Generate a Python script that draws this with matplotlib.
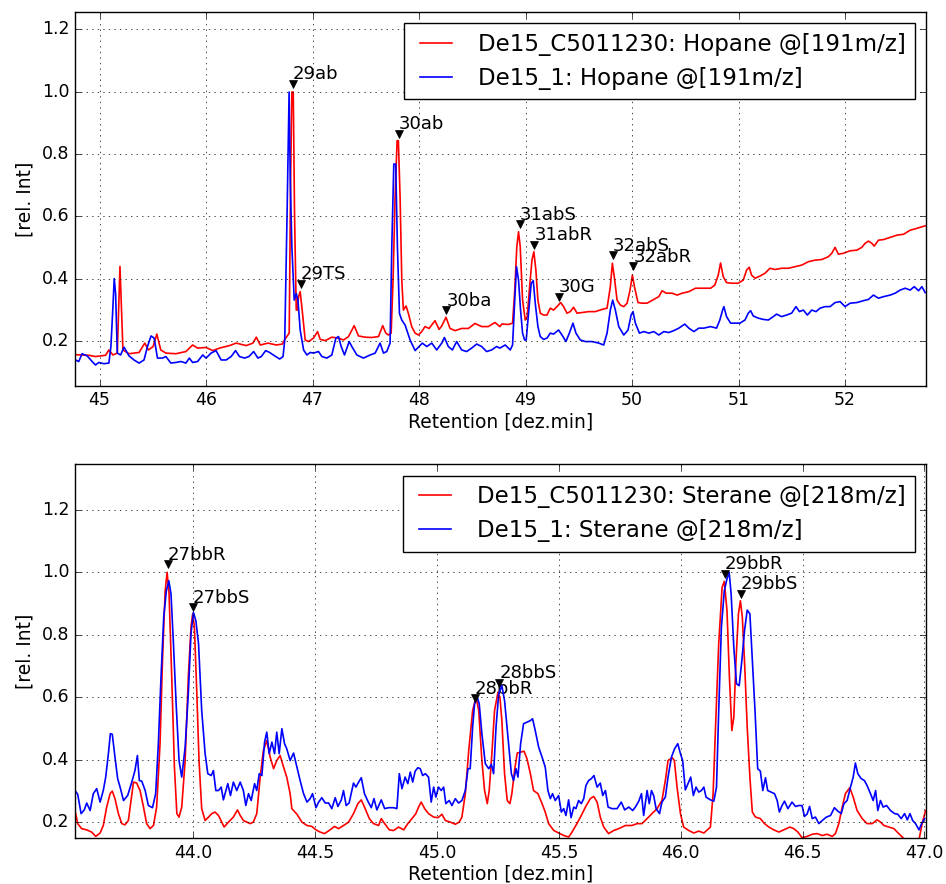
import matplotlib
matplotlib.use("Agg")
import matplotlib.pyplot as plt

plt.style.use("classic")

# retention [min], rel. intensity  -- Hopane @191 m/z
hopane_c5011230 = [
    (44.774, 0.157), (44.899, 0.155), (44.962, 0.151), (45.057, 0.155), (45.088, 0.172),
    (45.126, 0.156), (45.167, 0.162), (45.192, 0.440), (45.220, 0.172), (45.277, 0.160),
    (45.371, 0.164), (45.425, 0.194), (45.459, 0.172), (45.503, 0.183), (45.538, 0.223),
    (45.575, 0.172), (45.623, 0.162), (45.717, 0.160), (45.811, 0.167), (45.874, 0.188),
    (45.921, 0.178), (46.000, 0.180), (46.063, 0.170), (46.126, 0.178), (46.220, 0.186),
    (46.283, 0.194), (46.377, 0.186), (46.440, 0.194), (46.472, 0.213), (46.509, 0.188),
    (46.582, 0.194), (46.660, 0.188), (46.717, 0.191), (46.748, 0.210), (46.781, 0.226),
    (46.794, 0.715), (46.806, 0.999), (46.819, 0.999), (46.831, 0.609), (46.847, 0.300),
    (46.856, 0.300), (46.869, 0.343), (46.884, 0.359), (46.906, 0.289), (46.931, 0.204),
    (46.963, 0.199), (47.009, 0.210), (47.047, 0.231), (47.072, 0.206), (47.119, 0.202),
    (47.181, 0.213), (47.244, 0.210), (47.291, 0.204), (47.338, 0.215), (47.391, 0.250),
    (47.431, 0.217), (47.494, 0.213), (47.556, 0.212), (47.619, 0.215), (47.659, 0.250),
    (47.688, 0.226), (47.713, 0.220), (47.738, 0.226), (47.756, 0.396), (47.775, 0.662),
    (47.794, 0.843), (47.806, 0.843), (47.822, 0.662), (47.838, 0.396), (47.853, 0.300),
    (47.878, 0.313), (47.900, 0.289), (47.931, 0.247), (47.963, 0.226), (47.994, 0.220),
    (48.025, 0.231), (48.056, 0.247), (48.094, 0.241), (48.150, 0.266), (48.188, 0.238),
    (48.213, 0.249), (48.253, 0.277), (48.291, 0.241), (48.338, 0.234), (48.400, 0.241),
    (48.463, 0.241), (48.525, 0.257), (48.588, 0.247), (48.650, 0.247), (48.713, 0.260),
    (48.759, 0.247), (48.777, 0.255), (48.840, 0.254), (48.878, 0.258), (48.897, 0.354),
    (48.918, 0.503), (48.934, 0.551), (48.950, 0.503), (48.972, 0.332), (48.997, 0.268),
    (49.016, 0.279), (49.038, 0.375), (49.060, 0.460), (49.078, 0.487), (49.097, 0.428),
    (49.116, 0.332), (49.138, 0.290), (49.169, 0.284), (49.201, 0.284), (49.232, 0.306),
    (49.263, 0.300), (49.295, 0.311), (49.329, 0.324), (49.357, 0.311), (49.389, 0.290),
    (49.420, 0.295), (49.451, 0.309), (49.483, 0.290), (49.530, 0.292), (49.592, 0.295),
    (49.655, 0.295), (49.718, 0.302), (49.765, 0.306), (49.796, 0.375), (49.815, 0.450),
    (49.837, 0.396), (49.859, 0.332), (49.890, 0.316), (49.922, 0.311), (49.953, 0.322),
    (49.981, 0.364), (50.003, 0.412), (50.025, 0.370), (50.056, 0.324), (50.094, 0.322),
    (50.141, 0.322), (50.204, 0.334), (50.251, 0.343), (50.282, 0.362), (50.320, 0.354),
    (50.376, 0.354), (50.423, 0.348), (50.470, 0.354), (50.533, 0.359), (50.596, 0.370),
    (50.658, 0.370), (50.737, 0.370), (50.777, 0.380), (50.809, 0.412), (50.831, 0.451),
    (50.856, 0.407), (50.887, 0.388), (50.934, 0.386), (50.997, 0.386), (51.044, 0.396),
    (51.075, 0.428), (51.100, 0.437), (51.122, 0.412), (51.154, 0.402), (51.201, 0.409),
    (51.248, 0.418), (51.295, 0.434), (51.342, 0.430), (51.404, 0.434), (51.467, 0.434),
    (51.530, 0.439), (51.592, 0.444), (51.655, 0.455), (51.718, 0.460), (51.781, 0.462),
    (51.843, 0.471), (51.875, 0.482), (51.906, 0.501), (51.937, 0.479), (51.984, 0.482),
    (52.047, 0.490), (52.110, 0.492), (52.157, 0.501), (52.188, 0.514), (52.219, 0.521),
    (52.251, 0.514), (52.273, 0.505), (52.313, 0.524), (52.361, 0.526), (52.423, 0.533),
    (52.486, 0.540), (52.549, 0.543), (52.611, 0.556), (52.674, 0.562), (52.752, 0.570),
]

hopane_1 = [
    (44.774, 0.140), (44.805, 0.135), (44.836, 0.160), (44.884, 0.153), (44.931, 0.135),
    (44.962, 0.124), (44.994, 0.132), (45.041, 0.128), (45.088, 0.130), (45.107, 0.183),
    (45.126, 0.311), (45.138, 0.401), (45.151, 0.353), (45.167, 0.162), (45.198, 0.156),
    (45.230, 0.181), (45.277, 0.153), (45.324, 0.140), (45.371, 0.130), (45.418, 0.140),
    (45.450, 0.183), (45.484, 0.217), (45.513, 0.210), (45.544, 0.146), (45.591, 0.146),
    (45.623, 0.151), (45.670, 0.130), (45.717, 0.132), (45.764, 0.135), (45.811, 0.130),
    (45.843, 0.146), (45.874, 0.132), (45.921, 0.135), (45.969, 0.156), (46.000, 0.146),
    (46.047, 0.162), (46.094, 0.170), (46.142, 0.140), (46.189, 0.140), (46.236, 0.151),
    (46.277, 0.170), (46.314, 0.151), (46.362, 0.146), (46.403, 0.151), (46.447, 0.167),
    (46.487, 0.146), (46.519, 0.151), (46.560, 0.170), (46.597, 0.164), (46.645, 0.153),
    (46.692, 0.143), (46.723, 0.151), (46.739, 0.204), (46.761, 0.609), (46.780, 0.999),
    (46.791, 0.715), (46.806, 0.502), (46.828, 0.332), (46.847, 0.353), (46.863, 0.332),
    (46.884, 0.236), (46.916, 0.172), (46.947, 0.156), (46.978, 0.164), (47.009, 0.162),
    (47.056, 0.167), (47.088, 0.151), (47.134, 0.146), (47.181, 0.156), (47.219, 0.210),
    (47.244, 0.215), (47.269, 0.183), (47.300, 0.156), (47.344, 0.199), (47.369, 0.183),
    (47.416, 0.156), (47.478, 0.146), (47.541, 0.156), (47.588, 0.162), (47.634, 0.194),
    (47.666, 0.162), (47.697, 0.167), (47.728, 0.194), (47.744, 0.502), (47.763, 0.768),
    (47.781, 0.768), (47.797, 0.502), (47.816, 0.289), (47.838, 0.268), (47.869, 0.252),
    (47.916, 0.204), (47.963, 0.170), (48.000, 0.183), (48.031, 0.194), (48.072, 0.183),
    (48.119, 0.194), (48.166, 0.172), (48.213, 0.194), (48.238, 0.212), (48.275, 0.183),
    (48.313, 0.172), (48.353, 0.199), (48.400, 0.172), (48.447, 0.167), (48.494, 0.178),
    (48.541, 0.191), (48.588, 0.183), (48.634, 0.167), (48.681, 0.172), (48.728, 0.183),
    (48.759, 0.178), (48.809, 0.188), (48.856, 0.172), (48.878, 0.188), (48.897, 0.322),
    (48.915, 0.439), (48.934, 0.396), (48.953, 0.300), (48.972, 0.226), (48.991, 0.204),
    (49.006, 0.204), (49.028, 0.290), (49.053, 0.386), (49.072, 0.394), (49.091, 0.322),
    (49.116, 0.247), (49.138, 0.215), (49.169, 0.206), (49.201, 0.210), (49.232, 0.226),
    (49.263, 0.223), (49.310, 0.236), (49.342, 0.220), (49.379, 0.199), (49.411, 0.226),
    (49.445, 0.258), (49.473, 0.226), (49.514, 0.204), (49.561, 0.199), (49.624, 0.199),
    (49.687, 0.194), (49.734, 0.188), (49.765, 0.226), (49.796, 0.300), (49.818, 0.332),
    (49.843, 0.300), (49.875, 0.247), (49.922, 0.220), (49.962, 0.236), (49.991, 0.284),
    (50.009, 0.295), (50.031, 0.258), (50.069, 0.226), (50.110, 0.231), (50.157, 0.226),
    (50.204, 0.231), (50.251, 0.220), (50.298, 0.231), (50.345, 0.228), (50.392, 0.234),
    (50.439, 0.242), (50.495, 0.255), (50.533, 0.242), (50.580, 0.231), (50.627, 0.242),
    (50.674, 0.242), (50.737, 0.247), (50.793, 0.242), (50.824, 0.268), (50.850, 0.300),
    (50.862, 0.311), (50.887, 0.279), (50.925, 0.258), (50.966, 0.258), (51.013, 0.258),
    (51.060, 0.268), (51.091, 0.290), (51.113, 0.298), (51.138, 0.281), (51.185, 0.274),
    (51.232, 0.270), (51.279, 0.268), (51.326, 0.279), (51.357, 0.287), (51.404, 0.279),
    (51.451, 0.284), (51.498, 0.290), (51.539, 0.311), (51.571, 0.295), (51.608, 0.300),
    (51.646, 0.284), (51.687, 0.300), (51.727, 0.295), (51.765, 0.306), (51.812, 0.311),
    (51.859, 0.311), (51.906, 0.324), (51.953, 0.327), (52.000, 0.311), (52.047, 0.322),
    (52.110, 0.324), (52.172, 0.330), (52.219, 0.334), (52.266, 0.348), (52.313, 0.338),
    (52.361, 0.343), (52.423, 0.348), (52.470, 0.354), (52.517, 0.364), (52.564, 0.370),
    (52.611, 0.364), (52.649, 0.375), (52.690, 0.362), (52.721, 0.375), (52.752, 0.356),
]

# Sterane @218 m/z
sterane_c5011230 = [
    (43.514, 0.237), (43.525, 0.195), (43.541, 0.179), (43.562, 0.175), (43.582, 0.168),
    (43.599, 0.154), (43.617, 0.165), (43.630, 0.189), (43.644, 0.248), (43.658, 0.291),
    (43.667, 0.299), (43.678, 0.275), (43.692, 0.227), (43.706, 0.195), (43.719, 0.191),
    (43.733, 0.205), (43.744, 0.269), (43.754, 0.328), (43.767, 0.325), (43.781, 0.301),
    (43.795, 0.248), (43.808, 0.195), (43.822, 0.179), (43.836, 0.189), (43.849, 0.248),
    (43.863, 0.451), (43.873, 0.717), (43.884, 0.941), (43.892, 1.000), (43.900, 0.931),
    (43.911, 0.664), (43.922, 0.376), (43.932, 0.227), (43.941, 0.216), (43.952, 0.248),
    (43.966, 0.397), (43.979, 0.664), (43.990, 0.824), (43.997, 0.867), (44.004, 0.824),
    (44.014, 0.611), (44.023, 0.397), (44.034, 0.243), (44.048, 0.205), (44.062, 0.216),
    (44.075, 0.227), (44.089, 0.232), (44.103, 0.221), (44.116, 0.200), (44.126, 0.184),
    (44.144, 0.200), (44.164, 0.216), (44.181, 0.239), (44.192, 0.221), (44.205, 0.205),
    (44.219, 0.200), (44.233, 0.195), (44.246, 0.200), (44.260, 0.227), (44.274, 0.344),
    (44.287, 0.429), (44.301, 0.461), (44.315, 0.408), (44.329, 0.371), (44.342, 0.397),
    (44.356, 0.413), (44.370, 0.376), (44.383, 0.344), (44.397, 0.291), (44.404, 0.243),
    (44.425, 0.225), (44.445, 0.200), (44.466, 0.189), (44.486, 0.186), (44.503, 0.175),
    (44.520, 0.168), (44.538, 0.163), (44.557, 0.173), (44.579, 0.186), (44.596, 0.179),
    (44.616, 0.189), (44.637, 0.200), (44.657, 0.227), (44.675, 0.259), (44.689, 0.271),
    (44.705, 0.243), (44.722, 0.211), (44.739, 0.195), (44.760, 0.189), (44.771, 0.211),
    (44.785, 0.195), (44.804, 0.175), (44.822, 0.173), (44.842, 0.184), (44.863, 0.175),
    (44.880, 0.195), (44.897, 0.211), (44.913, 0.227), (44.924, 0.248), (44.935, 0.264),
    (44.949, 0.243), (44.965, 0.227), (44.986, 0.216), (45.004, 0.214), (45.020, 0.225),
    (45.034, 0.205), (45.054, 0.200), (45.075, 0.193), (45.091, 0.200), (45.102, 0.216),
    (45.116, 0.291), (45.130, 0.429), (45.146, 0.557), (45.160, 0.600), (45.171, 0.557),
    (45.184, 0.397), (45.195, 0.301), (45.206, 0.259), (45.214, 0.301), (45.225, 0.419),
    (45.236, 0.557), (45.250, 0.616), (45.258, 0.600), (45.266, 0.525), (45.277, 0.355),
    (45.288, 0.269), (45.299, 0.259), (45.307, 0.291), (45.318, 0.365), (45.329, 0.421),
    (45.343, 0.424), (45.357, 0.427), (45.369, 0.403), (45.383, 0.355), (45.396, 0.301),
    (45.414, 0.291), (45.431, 0.259), (45.444, 0.232), (45.458, 0.195), (45.479, 0.173),
    (45.499, 0.165), (45.520, 0.157), (45.540, 0.152), (45.554, 0.168), (45.574, 0.195),
    (45.592, 0.221), (45.609, 0.248), (45.629, 0.275), (45.643, 0.282), (45.657, 0.264),
    (45.670, 0.216), (45.684, 0.184), (45.704, 0.163), (45.725, 0.173), (45.746, 0.179),
    (45.773, 0.189), (45.800, 0.189), (45.821, 0.195), (45.841, 0.195), (45.862, 0.211),
    (45.882, 0.227), (45.903, 0.243), (45.923, 0.269), (45.937, 0.333), (45.948, 0.397),
    (45.965, 0.406), (45.974, 0.397), (45.985, 0.312), (45.999, 0.227), (46.012, 0.184),
    (46.033, 0.173), (46.054, 0.165), (46.074, 0.171), (46.095, 0.165), (46.122, 0.184),
    (46.133, 0.291), (46.143, 0.504), (46.156, 0.771), (46.170, 0.952), (46.179, 0.971),
    (46.190, 0.877), (46.200, 0.664), (46.210, 0.493), (46.218, 0.536), (46.227, 0.717),
    (46.237, 0.867), (46.245, 0.909), (46.253, 0.856), (46.263, 0.696), (46.273, 0.504),
    (46.284, 0.344), (46.294, 0.232), (46.307, 0.216), (46.327, 0.211), (46.344, 0.195),
    (46.362, 0.184), (46.382, 0.175), (46.403, 0.168), (46.423, 0.175), (46.448, 0.184),
    (46.464, 0.179), (46.481, 0.168), (46.498, 0.150), (46.519, 0.154), (46.540, 0.161),
    (46.560, 0.163), (46.581, 0.157), (46.601, 0.161), (46.622, 0.154), (46.635, 0.163),
    (46.649, 0.195), (46.663, 0.248), (46.676, 0.291), (46.694, 0.310), (46.708, 0.280),
    (46.724, 0.237), (46.745, 0.211), (46.765, 0.195), (46.786, 0.195), (46.806, 0.207),
    (46.820, 0.200), (46.834, 0.189), (46.854, 0.184), (46.875, 0.179), (46.895, 0.163),
    (46.916, 0.147), (46.937, 0.136), (46.957, 0.131), (46.978, 0.143), (46.991, 0.195),
    (47.005, 0.237),
]

sterane_1 = [
    (43.514, 0.301), (43.525, 0.289), (43.539, 0.227), (43.552, 0.239), (43.562, 0.261),
    (43.576, 0.237), (43.589, 0.291), (43.603, 0.307), (43.617, 0.264), (43.630, 0.301),
    (43.640, 0.344), (43.651, 0.419), (43.659, 0.483), (43.667, 0.481), (43.678, 0.408),
    (43.689, 0.339), (43.699, 0.312), (43.713, 0.269), (43.730, 0.285), (43.747, 0.328),
    (43.760, 0.365), (43.770, 0.413), (43.778, 0.333), (43.788, 0.331), (43.802, 0.301),
    (43.815, 0.253), (43.832, 0.246), (43.845, 0.291), (43.856, 0.451), (43.867, 0.664),
    (43.878, 0.856), (43.889, 0.941), (43.899, 0.973), (43.908, 0.931), (43.918, 0.771),
    (43.929, 0.579), (43.941, 0.397), (43.952, 0.344), (43.966, 0.440), (43.979, 0.611),
    (43.990, 0.803), (44.000, 0.872), (44.010, 0.845), (44.021, 0.771), (44.034, 0.557),
    (44.048, 0.419), (44.059, 0.355), (44.073, 0.349), (44.082, 0.365), (44.092, 0.301),
    (44.103, 0.301), (44.114, 0.312), (44.123, 0.271), (44.141, 0.323), (44.152, 0.285),
    (44.164, 0.328), (44.178, 0.301), (44.192, 0.328), (44.205, 0.301), (44.215, 0.253),
    (44.226, 0.291), (44.237, 0.269), (44.251, 0.323), (44.260, 0.301), (44.270, 0.355),
    (44.281, 0.349), (44.292, 0.456), (44.301, 0.488), (44.311, 0.419), (44.322, 0.456),
    (44.333, 0.419), (44.342, 0.488), (44.352, 0.419), (44.363, 0.499), (44.374, 0.451),
    (44.383, 0.435), (44.397, 0.397), (44.411, 0.421), (44.425, 0.376), (44.438, 0.333),
    (44.452, 0.291), (44.466, 0.264), (44.479, 0.275), (44.489, 0.291), (44.503, 0.246),
    (44.514, 0.264), (44.527, 0.278), (44.541, 0.261), (44.555, 0.261), (44.568, 0.243),
    (44.582, 0.278), (44.593, 0.250), (44.607, 0.271), (44.616, 0.301), (44.627, 0.253),
    (44.639, 0.261), (44.650, 0.301), (44.657, 0.325), (44.667, 0.312), (44.678, 0.328),
    (44.689, 0.342), (44.702, 0.291), (44.716, 0.267), (44.730, 0.246), (44.741, 0.275),
    (44.753, 0.239), (44.771, 0.271), (44.785, 0.243), (44.801, 0.246), (44.822, 0.246),
    (44.835, 0.243), (44.845, 0.355), (44.856, 0.307), (44.869, 0.344), (44.880, 0.323),
    (44.890, 0.360), (44.900, 0.328), (44.910, 0.363), (44.921, 0.374), (44.931, 0.371),
    (44.941, 0.349), (44.952, 0.355), (44.965, 0.344), (44.976, 0.264), (44.986, 0.312),
    (44.995, 0.280), (45.006, 0.312), (45.017, 0.301), (45.027, 0.312), (45.036, 0.259),
    (45.050, 0.269), (45.061, 0.253), (45.075, 0.275), (45.088, 0.261), (45.102, 0.269),
    (45.116, 0.301), (45.127, 0.371), (45.136, 0.371), (45.146, 0.504), (45.154, 0.579),
    (45.165, 0.600), (45.173, 0.579), (45.184, 0.483), (45.198, 0.387), (45.212, 0.371),
    (45.223, 0.385), (45.232, 0.355), (45.242, 0.504), (45.253, 0.611), (45.266, 0.637),
    (45.277, 0.589), (45.291, 0.472), (45.305, 0.355), (45.314, 0.333), (45.324, 0.371),
    (45.332, 0.344), (45.343, 0.451), (45.355, 0.515), (45.369, 0.520), (45.383, 0.525),
    (45.392, 0.531), (45.403, 0.493), (45.417, 0.440), (45.431, 0.408), (45.444, 0.376),
    (45.455, 0.301), (45.465, 0.275), (45.474, 0.291), (45.485, 0.269), (45.499, 0.285),
    (45.510, 0.232), (45.520, 0.243), (45.529, 0.221), (45.540, 0.271), (45.550, 0.214),
    (45.561, 0.248), (45.570, 0.243), (45.581, 0.269), (45.592, 0.259), (45.602, 0.275),
    (45.611, 0.317), (45.622, 0.333), (45.633, 0.339), (45.644, 0.349), (45.657, 0.312),
    (45.670, 0.325), (45.680, 0.285), (45.691, 0.301), (45.702, 0.248), (45.718, 0.243),
    (45.739, 0.243), (45.756, 0.264), (45.770, 0.239), (45.787, 0.248), (45.803, 0.237),
    (45.814, 0.248), (45.828, 0.267), (45.839, 0.291), (45.848, 0.221), (45.862, 0.301),
    (45.871, 0.259), (45.880, 0.301), (45.889, 0.285), (45.899, 0.243), (45.913, 0.227),
    (45.923, 0.264), (45.937, 0.280), (45.948, 0.344), (45.962, 0.408), (45.975, 0.435),
    (45.988, 0.451), (45.999, 0.419), (46.008, 0.397), (46.019, 0.303), (46.030, 0.323),
    (46.041, 0.344), (46.052, 0.285), (46.063, 0.312), (46.074, 0.296), (46.085, 0.301),
    (46.095, 0.312), (46.104, 0.280), (46.122, 0.271), (46.136, 0.267), (46.147, 0.312),
    (46.156, 0.557), (46.167, 0.824), (46.179, 0.941), (46.190, 0.979), (46.199, 1.000),
    (46.207, 0.931), (46.218, 0.760), (46.229, 0.643), (46.240, 0.637), (46.251, 0.717),
    (46.262, 0.813), (46.273, 0.879), (46.284, 0.867), (46.294, 0.717), (46.305, 0.557),
    (46.316, 0.371), (46.327, 0.363), (46.337, 0.301), (46.348, 0.342), (46.357, 0.301),
    (46.371, 0.296), (46.385, 0.291), (46.396, 0.269), (46.405, 0.232), (46.416, 0.253),
    (46.426, 0.267), (46.440, 0.243), (46.457, 0.264), (46.471, 0.250), (46.485, 0.253),
    (46.498, 0.253), (46.508, 0.218), (46.519, 0.226), (46.529, 0.250), (46.540, 0.211),
    (46.553, 0.216), (46.567, 0.195), (46.581, 0.205), (46.598, 0.216), (46.615, 0.221),
    (46.631, 0.246), (46.645, 0.235), (46.659, 0.227), (46.670, 0.259), (46.683, 0.269),
    (46.697, 0.312), (46.708, 0.344), (46.717, 0.389), (46.727, 0.355), (46.741, 0.339),
    (46.754, 0.333), (46.765, 0.317), (46.779, 0.291), (46.790, 0.269), (46.800, 0.301),
    (46.809, 0.237), (46.820, 0.269), (46.831, 0.248), (46.845, 0.253), (46.861, 0.237),
    (46.878, 0.227), (46.891, 0.225), (46.905, 0.211), (46.919, 0.227), (46.930, 0.207),
    (46.941, 0.227), (46.952, 0.205), (46.964, 0.195), (46.978, 0.175), (46.989, 0.195),
    (47.001, 0.211),
]

# peak labels: name, retention, intensity of the labelled peak
hopane_names = ["29ab", "29TS", "30ab", "30ba", "31abS", "31abR", "30G", "32abS", "32abR"]
hopane_rt = [46.816, 46.891, 47.808, 48.255, 48.944, 49.082, 49.314, 49.817, 50.011]
hopane_int = [1.0, 0.36, 0.841, 0.274, 0.55, 0.483, 0.317, 0.45, 0.415]

sterane_names = ["27bbR", "27bbS", "28bbR", "28bbS", "29bbR", "29bbS"]
sterane_rt = [43.895, 43.998, 45.154, 45.256, 46.182, 46.246]
sterane_int = [1.0, 0.863, 0.571, 0.62, 0.97, 0.906]

hopane_xticks = [45, 46, 47, 48, 49, 50, 51, 52]
sterane_xticks = [44.0, 44.5, 45.0, 45.5, 46.0, 46.5, 47.0]
yticks = [0.2, 0.4, 0.6, 0.8, 1.0, 1.2]


def draw_panel(ax, red, blue, labels, names, rts, ints, xticks, xfmt, xlim, ylim):
    rx, ry = zip(*red)
    bx, by = zip(*blue)
    ax.plot(rx, ry, color="r", lw=1.2, label=labels[0])
    ax.plot(bx, by, color="b", lw=1.2, label=labels[1])
    for name, rt, inten in zip(names, rts, ints):
        ax.plot(rt, inten + 0.025, "kv", markersize=6, zorder=3)
        ax.text(rt, inten + 0.04, name, fontsize=13, zorder=1)
    ax.set_xlim(*xlim)
    ax.set_ylim(*ylim)
    ax.set_xticks(xticks)
    ax.set_xticklabels([xfmt.format(t) for t in xticks], fontsize=12.5)
    ax.set_yticks(yticks)
    ax.set_yticklabels(["{:.1f}".format(t) for t in yticks], fontsize=12.5)
    ax.grid(True)
    ax.set_xlabel("Retention [dez.min]", fontsize=13.5, labelpad=2)
    ax.set_ylabel("[rel. Int]", fontsize=13.5)
    ax.legend(loc="upper right", fontsize=16.5)


fig = plt.figure(figsize=(9.46, 8.84), dpi=100)
fig.patch.set_facecolor("white")
ax1 = fig.add_axes([0.0793, 0.5637, 0.8996, 0.4227])
ax2 = fig.add_axes([0.0793, 0.0517, 0.8996, 0.4231])

draw_panel(ax1, hopane_c5011230, hopane_1,
           ["De15_C5011230: Hopane @[191m/z]", "De15_1: Hopane @[191m/z]"],
           hopane_names, hopane_rt, hopane_int,
           hopane_xticks, "{:d}", (44.77, 52.76), (0.0575, 1.2555))
draw_panel(ax2, sterane_c5011230, sterane_1,
           ["De15_C5011230: Sterane @[218m/z]", "De15_1: Sterane @[218m/z]"],
           sterane_names, sterane_rt, sterane_int,
           sterane_xticks, "{:.1f}", (43.514, 47.007), (0.148, 1.346))

fig.savefig("out.png", dpi=100, facecolor="white")
